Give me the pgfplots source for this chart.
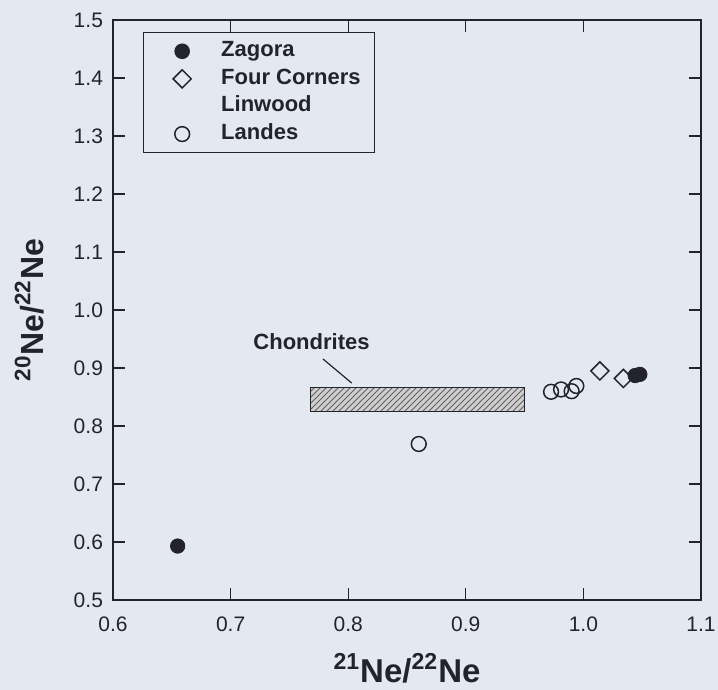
\documentclass[border=0pt]{standalone}
\usepackage{fontspec}
\setmainfont{Liberation Sans}
\usepackage{pgfplots}
\pgfplotsset{compat=1.18}
\usetikzlibrary{patterns}
\definecolor{bg}{RGB}{228,232,241}
\definecolor{ink}{RGB}{35,35,45}
\begin{document}
\begin{tikzpicture}
\fill[bg] (-56.5pt,-45pt) rectangle (302.5pt,300pt);
\begin{axis}[
  scale only axis=true, width=294pt, height=290pt,
  xmin=0.6, xmax=1.1, ymin=0.5, ymax=1.5,
  xtick={0.6,0.7,...,1.1}, ytick={0.5,0.6,...,1.5},
  tick pos=both, tick align=inside, major tick length=6pt,
  axis line style={ink, line width=0.6pt},
  every tick/.style={ink, line width=0.6pt},
  /pgf/number format/assume math mode=true,
  /pgf/number format/.cd, fixed, fixed zerofill, precision=1, /pgfplots/.cd,
  ticklabel style={font=\fontsize{10.5}{12}\selectfont, text=ink},
  xticklabel style={yshift=-5pt},
  yticklabel style={xshift=-1.5pt},
  xlabel={\textsuperscript{21}Ne/\textsuperscript{22}Ne},
  ylabel={\textsuperscript{20}Ne/\textsuperscript{22}Ne},
  xlabel style={at={(axis description cs:0.5,-0.1414)}, anchor=base, font=\bfseries\fontsize{16.5}{18}\selectfont, text=ink},
  ylabel style={at={(axis description cs:-0.119,0.5)}, anchor=base, font=\bfseries\fontsize{16}{18}\selectfont, text=ink},
  legend style={at={(axis description cs:0.051,0.979)}, anchor=north west,
    draw=ink, line width=0.6pt, fill=none, inner xsep=6pt, inner ysep=3pt,
    font=\bfseries\fontsize{11}{13}\selectfont, text=ink,
    nodes={inner sep=1pt, text height=8pt, text depth=2.5pt},
    row sep=1.3pt,
    /tikz/every odd column/.append style={column sep=14pt}},
  legend cell align=left,
  legend image code/.code={\path (-13pt,0pt) (0pt,0pt); \draw[#1] plot coordinates {(0pt,0pt)};},
]
% Chondrites field
\addplot[draw=ink, line width=0.6pt, fill=gray!38, postaction={pattern=north east lines, pattern color=gray!75!black}, forget plot]
  coordinates {(0.768,0.825) (0.950,0.825) (0.950,0.867) (0.768,0.867)} -- cycle;
\addplot[ink, line width=0.6pt, forget plot] coordinates {(0.7786,0.9155) (0.803,0.874)};
% Zagora
\addplot[only marks, mark=*, mark size=3.6pt, mark options={draw=ink, fill=ink}]
  coordinates {(0.655,0.593) (1.044,0.887) (1.048,0.889)};
\addlegendentry{Zagora}
% Four Corners
\addplot[only marks, mark=square, mark size=3.2pt, mark options={rotate=45, draw=ink, fill=bg, line width=0.75pt}]
  coordinates {(1.014,0.895) (1.034,0.882)};
\addlegendentry{Four Corners}
\addlegendimage{empty legend}
\addlegendentry{Linwood}
% Landes
\addplot[only marks, mark=o, mark size=3.7pt, mark options={draw=ink, line width=0.75pt}]
  coordinates {(0.860,0.769) (0.9725,0.859) (0.981,0.863) (0.990,0.860) (0.994,0.869)};
\addlegendentry{Landes}
\node[anchor=east, inner sep=0pt, font=\bfseries\fontsize{11}{13}\selectfont, text=ink] at (axis cs:0.8185,0.946) {Chondrites};
\end{axis}
\pgfresetboundingbox
\path (-56.5pt,-45pt) rectangle (302.5pt,300pt);
\end{tikzpicture}
\end{document}
